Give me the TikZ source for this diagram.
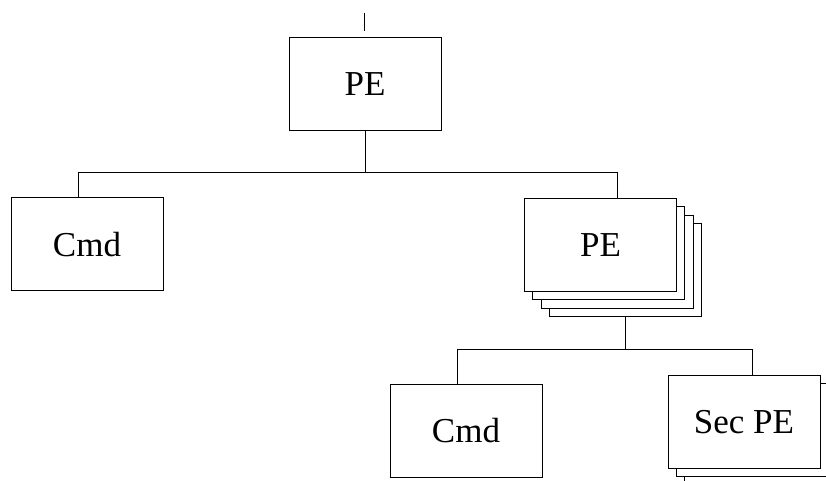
\documentclass[tikz,border=0pt]{standalone}
\usepackage{fontspec}
\setmainfont{Liberation Serif}
\begin{document}
\begin{tikzpicture}[
		x=0.5pt,y=-0.5pt,
		line width=0.5pt,
		every node/.style={draw,fill=white,inner sep=0pt,
			minimum width=76pt,minimum height=46.5pt,
			font=\fontsize{17.5}{20}\selectfont}
		]
		\clip (0,0) rectangle (826,481);
		% top level
		\coordinate (inT) at (364,13);
		\coordinate (inB) at (364,31);
		\node (pe) at (365,84.5) {PE};
		\node (cmd) at (87,244.5) {Cmd};
		\foreach \i in {3,2,1} {
			\node (peS\i) at (600.5+8.33*\i,245+8.33*\i) {};
		}
		\node (peR) at (600.5,245) {PE};
		% second level
		\node (cmdB) at (466,430.5) {Cmd};
		\foreach \i in {2,1} {
			\node (secS\i) at (744+8.2*\i,422+8.2*\i) {};
		}
		\node (sec) at (744,422) {Sec PE};
		% connectors
		\coordinate (busL) at (78,173);
		\coordinate (busR) at (617,173);
		\coordinate (busL2) at (457,350);
		\coordinate (busR2) at (752,350);
		\draw (inT) -- (inB);
		\draw (pe.south) -- (pe.south |- busL);
		\draw (busL |- cmd.north) -- (busL) -- (busR) -- (busR |- peR.north);
		\draw (peS3.south) -- (peS3.south |- busL2);
		\draw (busL2 |- cmdB.north) -- (busL2) -- (busR2) -- (busR2 |- sec.north);
\end{tikzpicture}
\end{document}
